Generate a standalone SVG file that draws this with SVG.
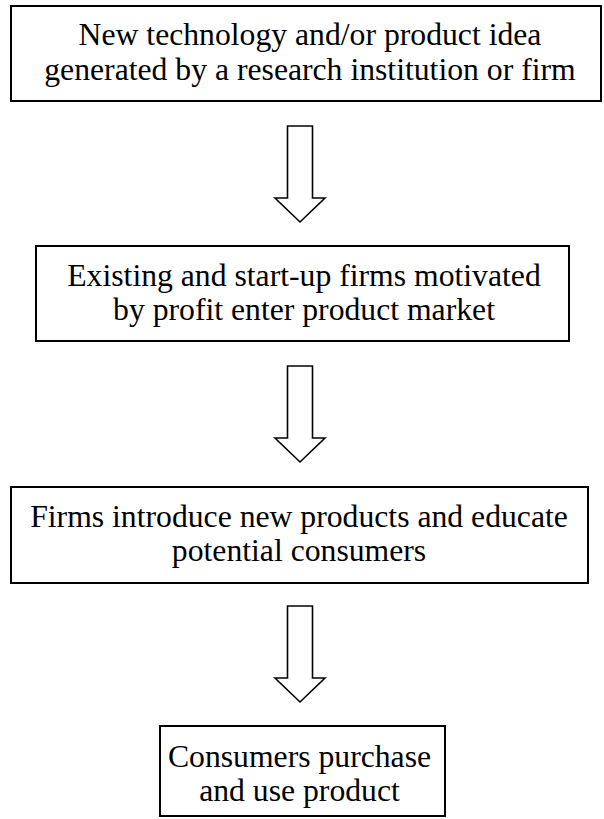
<svg xmlns="http://www.w3.org/2000/svg" width="604" height="819" viewBox="0 0 604 819">
  <style>
    .box { fill: #ffffff; stroke: #000000; stroke-width: 2; }
    .arrow { fill: #ffffff; stroke: #000000; stroke-width: 1.6; stroke-linejoin: miter; }
    .label { font-size: 31.7px; fill: #000000; text-anchor: middle; }
  </style>
  <rect width="604" height="819" fill="#ffffff"/>

  <!-- hollow block arrows between the steps -->
  <g id="connectors">
    <path class="arrow" d="M287.5,126 H312.5 V198 H325 L300,222 L275,198 H287.5 Z"/>
    <path class="arrow" d="M287.5,366 H312.5 V438 H325 L300,462 L275,438 H287.5 Z"/>
    <path class="arrow" d="M287.5,606 H312.5 V678 H325 L300,702 L275,678 H287.5 Z"/>
  </g>

  <g font-family="'Liberation Serif', 'Times New Roman', Times, 'DejaVu Serif', serif">
    <g id="idea">
      <rect class="box" x="11" y="6" width="590" height="95"/>
      <text class="label" x="310" y="45">New technology and/or product idea</text>
      <text class="label" x="310" y="80">generated by a research institution or firm</text>
    </g>

    <g id="market-entry">
      <rect class="box" x="36" y="246" width="533" height="95"/>
      <text class="label" x="304" y="286">Existing and start-up firms motivated</text>
      <text class="label" x="304" y="320">by profit enter product market</text>
    </g>

    <g id="introduction">
      <rect class="box" x="11" y="487" width="577" height="96"/>
      <text class="label" x="299" y="527">Firms introduce new products and educate</text>
      <text class="label" x="299" y="561">potential consumers</text>
    </g>

    <g id="adoption">
      <rect class="box" x="160" y="726" width="285" height="90"/>
      <text class="label" x="299.5" y="767">Consumers purchase</text>
      <text class="label" x="299.5" y="801">and use product</text>
    </g>
  </g>
</svg>
